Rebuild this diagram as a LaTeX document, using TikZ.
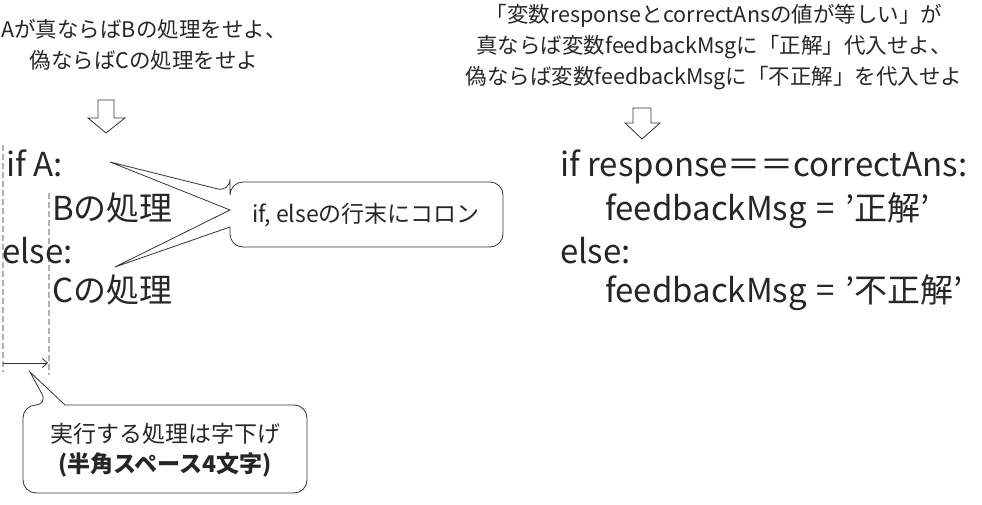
\documentclass[tikz,border=0pt]{standalone}
\usepackage{fontspec}
\setmainfont{Noto Sans CJK JP}
\usetikzlibrary{arrows.meta}
\tikzset{
  note/.style={inner sep=0pt,font=\fontsize{21.5}{31}\selectfont,align=center,text=black!85},
  tip/.style={inner sep=0pt,font=\fontsize{23}{30}\selectfont,align=center,text=black!85},
  code/.style={inner sep=0pt,anchor=base west,font=\fontsize{33}{36}\selectfont,text=black!85},
  guide/.style={gray!60,line width=2.5pt,dash pattern=on 6pt off 3pt},
  callout/.style={draw=black!80,line width=0.8pt,rounded corners=13pt,fill=white},
  hollow/.style={draw=black!80,line width=0.8pt,fill=white}
}
\newcommand{\eqsp}{\hspace{10pt}=\hspace{10pt}}
\begin{document}
\begin{tikzpicture}[x=1pt,y=-1pt]
\useasboundingbox (0,0) rectangle (982,505);
% left: description
\node[note] (descA) at (144,45) {Aが真ならばBの処理をせよ、\\偽ならばCの処理をせよ};
\draw[hollow] (98,100) -- (114,100) -- (114,118) -- (125,118) -- (106,133) -- (88,118) -- (98,118) -- cycle;

% left: code
\draw[guide] (3,145) -- (3,372);
\draw[guide] (49,193) -- (49,375);
\node[code] (ifA) at (6,177) {if A:};
\node[code] (doB) at (52,220) {Bの処理};
\node[code] (elseA) at (2,263) {else:};
\node[code] (doC) at (52,302) {Cの処理};
\draw[-{Straight Barb[length=5pt,width=9pt]},black!80,line width=0.8pt] (3,363) -- (48,363);

% callout: colon
\draw[callout] (503,215) -- (503,182) -- (230,182) -- (230,192) [sharp corners] -- (110,162) -- (230,210) -- (115,267) -- (230,227) [rounded corners=13pt] -- (230,247) -- (503,247) -- cycle;
\node[tip] (colon) at (366,215) {if, elseの行末にコロン};

% callout: indent
\draw[callout] (165,493) -- (23,493) -- (23,405) -- (48,405) [sharp corners] -- (30,372) -- (65,405) [rounded corners=13pt] -- (307,405) -- (307,493) -- cycle;
\node[tip] (indent) at (165,450) {実行する処理は字下げ\\{\bfseries(半角スペース4文字)}};

% right: description
\node[note] (descR) at (714,47) {「変数responseとcorrectAnsの値が等しい」が\\真ならば変数feedbackMsgに「正解」代入せよ、\\偽ならば変数feedbackMsgに「不正解」を代入せよ};
\draw[hollow] (633,108) -- (651,108) -- (651,123) -- (660,123) -- (642,139) -- (625,123) -- (633,123) -- cycle;

% right: code
\node[code] (ifR) at (560,177) {if response＝＝correctAns:};
\node[code] (okR) at (605,220) {feedbackMsg\eqsp'正解'};
\node[code] (elseR) at (560,263) {else:};
\node[code] (ngR) at (605,302) {feedbackMsg\eqsp'不正解'};
\end{tikzpicture}
\end{document}
